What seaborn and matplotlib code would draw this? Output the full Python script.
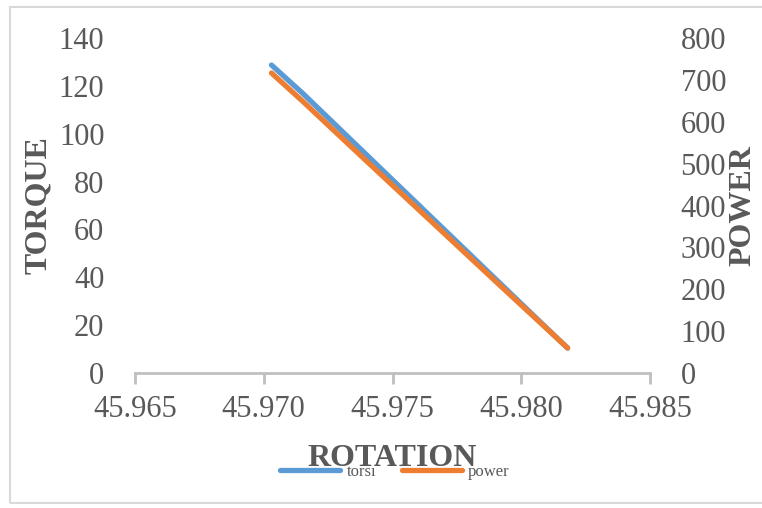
import matplotlib
matplotlib.use("Agg")
import matplotlib.pyplot as plt
import seaborn as sns
from matplotlib.patches import Rectangle
from matplotlib.lines import Line2D

sns.set_theme(style="white")
plt.rcParams['font.family'] = ['Liberation Serif', 'DejaVu Serif']

rotation = [45.9703, 45.9715, 45.9740, 45.9765, 45.9790, 45.9818]
torque = [128.7, 117.0, 91.1, 65.2, 39.3, 10.4]
power = [716.4, 649.6, 505.6, 362.4, 219.1, 59.7]
x_ticks = [45.965, 45.970, 45.975, 45.980, 45.985]
x_ticklabels = ["45.965", "45.970", "45.975", "45.980", "45.985"]
torque_ticks = list(range(0, 141, 20))
power_ticks = list(range(0, 801, 100))

blue = "#5B9BD5"
orange = "#ED7D31"
gray = "#595959"

fig = plt.figure(figsize=(7.62, 5.08), dpi=100)
fig.patches.append(Rectangle((10/762, 1-503/508), 1.0, 496/508, transform=fig.transFigure,
                             fill=False, edgecolor="#D9D9D9", linewidth=1.5))
ax = fig.add_axes([135/762, 1-373/508, 515/762, 335/508])
ax2 = ax.twinx()

sns.lineplot(x=rotation, y=torque, ax=ax, color=blue, linewidth=3.8, solid_capstyle='round')
sns.lineplot(x=rotation, y=power, ax=ax2, color=orange, linewidth=3.8, solid_capstyle='round')

ax.set_xlim(45.965, 45.985)
ax.set_ylim(0, 140)
ax2.set_ylim(0, 800)
ax.set_xticks(x_ticks)
ax.set_xticklabels(x_ticklabels)
ax.set_yticks(torque_ticks)
ax2.set_yticks(power_ticks)

for a in (ax, ax2):
    for s in ("top", "left", "right", "bottom"):
        a.spines[s].set_visible(False)
    a.grid(False)
ax.spines["bottom"].set_visible(True)
ax.spines["bottom"].set_color("#BFBFBF")
ax.spines["bottom"].set_linewidth(2)

ax.tick_params(axis='x', bottom=True, length=8, width=2, color="#BFBFBF",
               labelsize=22, labelcolor=gray, pad=8)
ax.tick_params(axis='y', left=False, labelsize=22, labelcolor=gray, pad=16)
ax2.tick_params(axis='y', right=False, labelsize=22, labelcolor=gray, pad=16)

ax.set_xlabel("ROTATION", fontsize=23, fontweight='bold', color=gray, labelpad=14)
ax.set_ylabel("TORQUE", fontsize=23, fontweight='bold', color=gray, labelpad=4)
ax2.set_ylabel("POWER", fontsize=23, fontweight='bold', color=gray, labelpad=2)

handles = [Line2D([], [], color=blue, lw=3.8, solid_capstyle='round'),
           Line2D([], [], color=orange, lw=3.8, solid_capstyle='round')]
fig.legend(handles, ["torsı", "power"], loc='center', bbox_to_anchor=(395/762, 1-472/508),
           ncol=2, frameon=False, fontsize=12, handlelength=3.6, handletextpad=0.4,
           columnspacing=1.5, labelcolor=gray)

fig.savefig("out.png", dpi=100)
